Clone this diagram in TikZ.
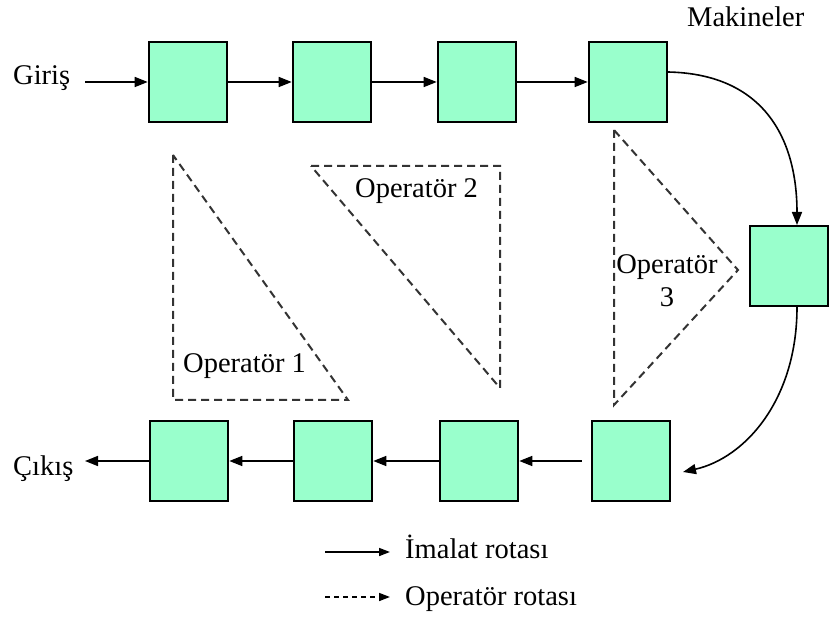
\documentclass[tikz,border=0pt]{standalone}
\usepackage{fontspec}
\setmainfont{Liberation Serif}
\newfontfamily\tnr{Liberation Serif}
\usetikzlibrary{arrows.meta}
\definecolor{boxgreen}{RGB}{153,255,204}
\tikzset{
  mach/.style={draw=black, fill=boxgreen, line width=2.6pt, minimum width=78pt, minimum height=80pt, inner sep=0pt},
  flow/.style={line width=1.6pt, -{Triangle[length=13pt,width=10pt]}},
  legflow/.style={line width=1.6pt, -{Triangle[length=11pt,width=8pt]}},
  oproute/.style={line width=2pt, dash pattern=on 8pt off 5pt, draw=black!80},
  lbl/.style={inner sep=0pt, anchor=base west, font=\tnr\fontsize{28.5}{33}\selectfont},
  lblc/.style={inner sep=0pt, anchor=base, font=\tnr\fontsize{28.5}{33}\selectfont}
}
\begin{document}
\begin{tikzpicture}[x=1pt,y=-1pt]
\useasboundingbox (0,0) rectangle (830,617);
% machines
\node[mach] (t1) at (188,82) {};
\node[mach] (t2) at (332,82) {};
\node[mach] (t3) at (477,82) {};
\node[mach] (t4) at (628,82) {};
\node[mach] (r)  at (789,266) {};
\node[mach] (b4) at (631,461) {};
\node[mach] (b3) at (479,461) {};
\node[mach] (b2) at (333,461) {};
\node[mach] (b1) at (189,461) {};
% texts
\node[lbl] (giris) at (13,85) {Giriş};
\node[lbl] (cikis) at (13,475) {Çıkış};
\node[lbl] (mak) at (687,27) {Makineler};
\node[lbl] (op1) at (183,373) {Operatör 1};
\node[lbl] (op2) at (355,198) {Operatör 2};
\node[lblc] (op3a) at (667,274) {Operatör};
\node[lblc] (op3b) at (667,307) {3};
% free ends
\coordinate (in) at (85,82);
\coordinate (out) at (85,461);
\coordinate (tcurve) at (668,72);
\coordinate (rtop) at (797,225);
\coordinate (rbot) at (797,307);
\coordinate (bend) at (683,472);
% production flow
\draw[flow] (in) -- (t1.west);
\draw[flow] (t1.east) -- (t2.west);
\draw[flow] (t2.east) -- (t3.west);
\draw[flow] (t3.east) -- (t4.west);
\draw[flow] (tcurve) .. controls (765,74) and (797,140) .. (rtop);
\draw[flow] (rbot) .. controls (797,400) and (745,458) .. (bend);
\draw[flow, shorten <=9pt] (b4.west) -- (b3.east);
\draw[flow] (b3.west) -- (b2.east);
\draw[flow] (b2.west) -- (b1.east);
\draw[flow] (b1.west) -- (out);
% operator areas
\draw[oproute] (173,155) -- (173,400) -- (348,400) -- cycle;
\draw[oproute] (311,166) -- (500,166) -- (500,388) -- cycle;
\draw[oproute] (614,130) -- (614,405) -- (738,270) -- cycle;
% legend
\coordinate (l1a) at (325,552);
\coordinate (l1b) at (390,552);
\coordinate (l2a) at (325,597);
\coordinate (l2b) at (390,597);
\draw[legflow] (l1a) -- (l1b);
\draw[legflow, dash pattern=on 5pt off 4pt] (l2a) -- (l2b);
\node[lbl] (leg1) at (405,558) {İmalat rotası};
\node[lbl] (leg2) at (405,605) {Operatör rotası};
\end{tikzpicture}
\end{document}
